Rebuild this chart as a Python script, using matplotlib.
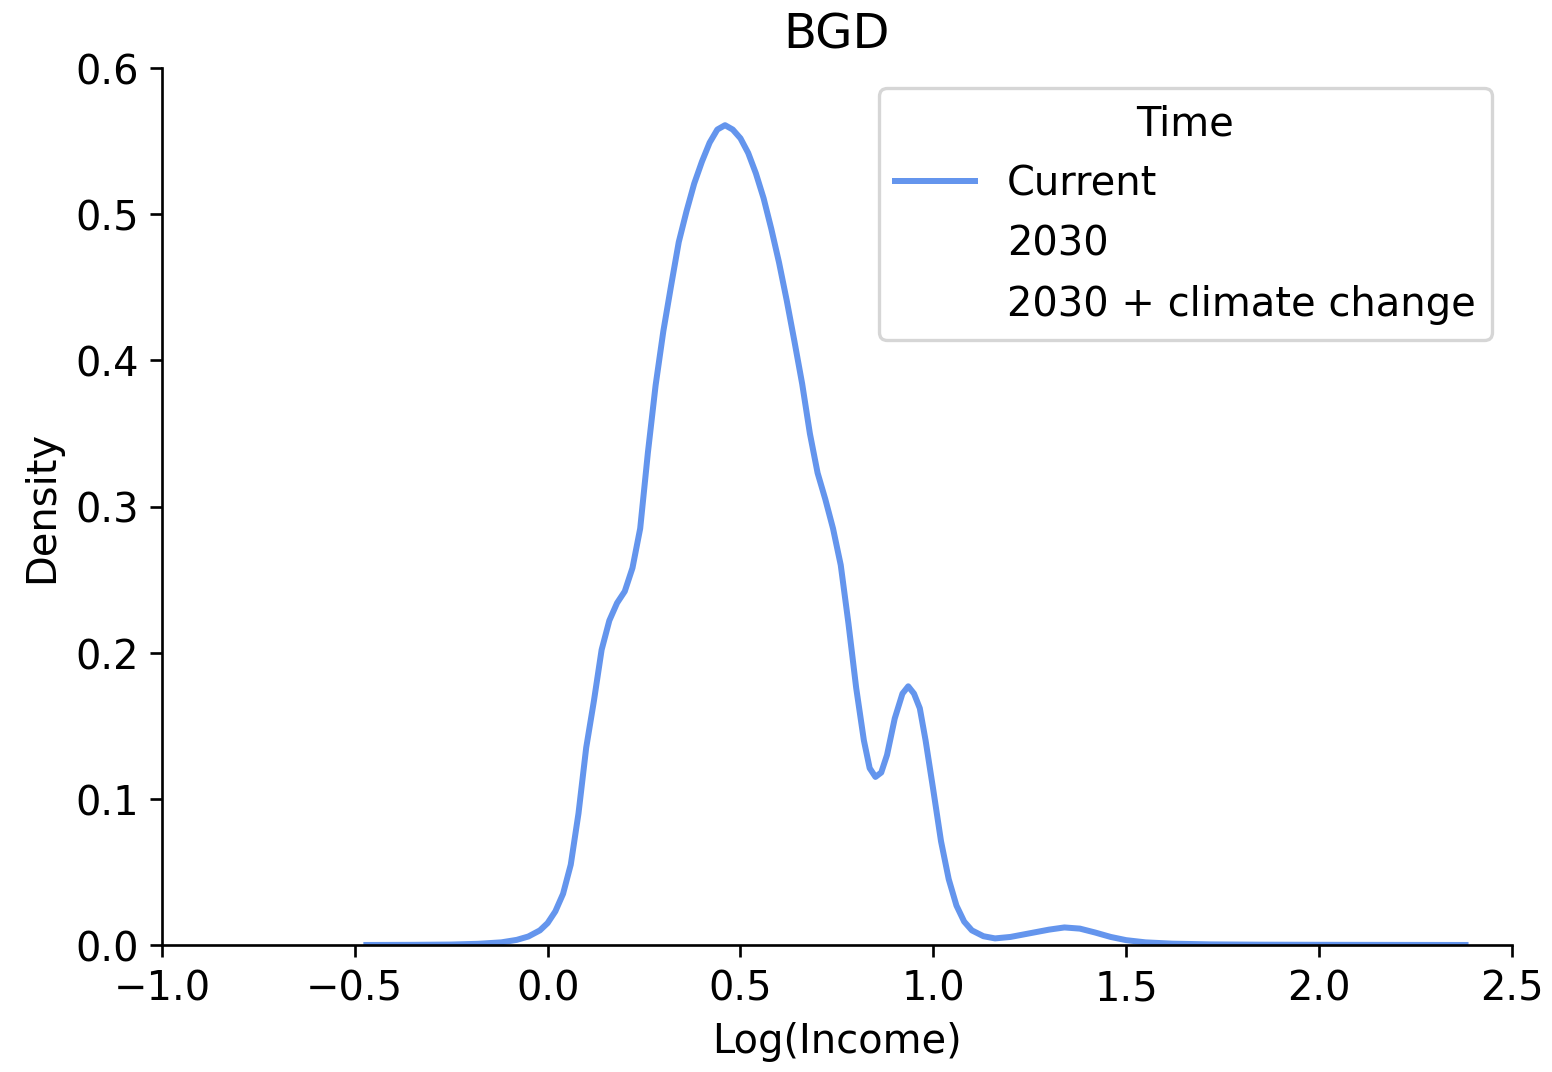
import matplotlib.pyplot as plt
from matplotlib.lines import Line2D

plt.rcParams["font.size"] = 12

# значения кривой плотности
log_income = [-0.47, -0.35, -0.25, -0.18, -0.12, -0.08, -0.05, -0.02, 0.0, 0.02,
              0.04, 0.06, 0.08, 0.10, 0.12, 0.14, 0.16, 0.18, 0.20, 0.22,
              0.24, 0.26, 0.28, 0.30, 0.32, 0.34, 0.36, 0.38, 0.40, 0.42,
              0.44, 0.46, 0.48, 0.50, 0.52, 0.54, 0.56, 0.58, 0.60, 0.62,
              0.64, 0.66, 0.68, 0.70, 0.72, 0.74, 0.76, 0.78, 0.80, 0.82,
              0.835, 0.85, 0.865, 0.88, 0.90, 0.92, 0.935, 0.95, 0.965, 0.98,
              1.00, 1.02, 1.04, 1.06, 1.08, 1.10, 1.13, 1.16, 1.20, 1.25,
              1.30, 1.34, 1.38, 1.42, 1.46, 1.50, 1.55, 1.62, 1.72, 1.85,
              2.05, 2.38]
density = [0.0, 0.0001, 0.0003, 0.0008, 0.0018, 0.0035, 0.0058, 0.010, 0.015, 0.023,
           0.035, 0.055, 0.090, 0.135, 0.167, 0.202, 0.222, 0.234, 0.242, 0.258,
           0.285, 0.337, 0.383, 0.420, 0.451, 0.481, 0.502, 0.521, 0.536, 0.549,
           0.558, 0.561, 0.558, 0.552, 0.542, 0.528, 0.511, 0.490, 0.467, 0.441,
           0.413, 0.384, 0.350, 0.323, 0.305, 0.285, 0.260, 0.220, 0.176, 0.140,
           0.121, 0.115, 0.118, 0.130, 0.155, 0.172, 0.177, 0.172, 0.162, 0.140,
           0.106, 0.071, 0.045, 0.027, 0.016, 0.010, 0.006, 0.0045, 0.0055, 0.008,
           0.0105, 0.012, 0.0112, 0.0085, 0.0055, 0.0033, 0.0018, 0.0009, 0.0004, 0.0002,
           0.0001, 0.0]

time_labels = ["Current", "2030", "2030 + climate change"]

fig = plt.figure(figsize=(6.47, 4.47), dpi=240)
ax = fig.add_axes([0.1043, 0.1184, 0.8693, 0.8173])

ax.plot(log_income, density, color="cornflowerblue", linewidth=1.8,
        solid_joinstyle="round")

ax.set_xlim(-1.0, 2.5)
ax.set_ylim(0, 0.6)
ax.set_title("BGD")
ax.set_xlabel("Log(Income)")
ax.set_ylabel("Density")
ax.spines["top"].set_visible(False)
ax.spines["right"].set_visible(False)

handles = [Line2D([], [], color="cornflowerblue", linewidth=1.8),
           Line2D([], [], color="none"),
           Line2D([], [], color="none")]
ax.legend(handles, time_labels, title="Time", loc="upper right")

fig.savefig("out.png", dpi=240)
